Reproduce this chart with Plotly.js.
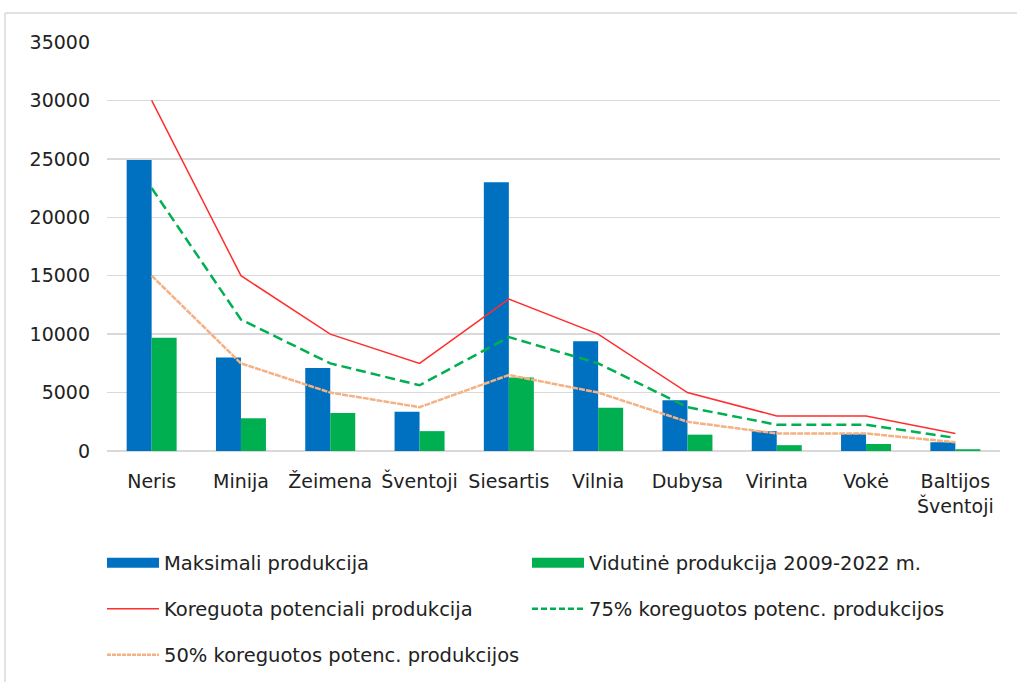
<!DOCTYPE html>
<html>
<head>
<meta charset="utf-8">
<script src="https://cdn.plot.ly/plotly-3.0.1.min.js"></script>
<style>html,body{margin:0;padding:0;background:#fff;}#chart{width:1017px;height:682px;}</style>
</head>
<body>
<div id="chart"></div>
<script>
const categories = ["Neris", "Minija", "Žeimena", "Šventoji", "Siesartis", "Vilnia", "Dubysa", "Virinta", "Vokė", "Baltijos<br>Šventoji"];
const maksimali = [24900, 8000, 7100, 3350, 23000, 9400, 4350, 1700, 1450, 750];
const vidutine = [9700, 2800, 3250, 1700, 6300, 3700, 1400, 500, 600, 150];
const koreguota = [30000, 15000, 10000, 7500, 13000, 10000, 5000, 3000, 3000, 1500];
const proc75 = [22500, 11250, 7500, 5625, 9750, 7500, 3750, 2250, 2250, 1125];
const proc50 = [15000, 7500, 5000, 3750, 6500, 5000, 2500, 1500, 1500, 750];

const names = ["Maksimali produkcija", "Vidutinė produkcija 2009-2022 m.", "Koreguota potenciali produkcija", "75% koreguotos potenc. produkcijos", "50% koreguotos potenc. produkcijos"];

const BLUE = "#0070C0", GREEN = "#00B050", RED = "#FF2E2E", ORANGE = "#F4B183";

const traces = [
  {type: "bar", x: categories, y: maksimali, name: names[0], marker: {color: BLUE}, showlegend: false},
  {type: "bar", x: categories, y: vidutine, name: names[1], marker: {color: GREEN}, showlegend: false},
  {type: "scatter", mode: "lines", x: categories, y: koreguota, name: names[2], line: {color: RED, width: 1.5}, showlegend: false},
  {type: "scatter", mode: "lines", x: categories, y: proc75, name: names[3], line: {color: GREEN, width: 2.5, dash: "10px,5px"}, showlegend: false},
  {type: "scatter", mode: "lines", x: categories, y: proc50, name: names[4], line: {color: ORANGE, width: 2.5, dash: "6px,1px"}, showlegend: false},
  // legend entries
  {type: "scatter", mode: "lines", x: [null], y: [null], name: names[0], line: {color: BLUE, width: 12}, legend: "legend"},
  {type: "scatter", mode: "lines", x: [null], y: [null], name: names[1], line: {color: GREEN, width: 12}, legend: "legend"},
  {type: "scatter", mode: "lines", x: [null], y: [null], name: names[2], line: {color: RED, width: 1.5}, legend: "legend2"},
  {type: "scatter", mode: "lines", x: [null], y: [null], name: names[3], line: {color: GREEN, width: 2.5, dash: "6px,3px"}, legend: "legend2"},
  {type: "scatter", mode: "lines", x: [null], y: [null], name: names[4], line: {color: ORANGE, width: 2.5, dash: "4px,1px"}, legend: "legend3"}
];

const PL = 107, PT = 42, PW = 893, PH = 409;
function px2x(X){return (X-PL)/PW;}
function px2y(Y){return (PT+PH-Y)/PH;}

const legendBase = {orientation: "h", xanchor: "left", yanchor: "middle", x: px2x(102), entrywidth: 358, entrywidthmode: "pixels", itemwidth: 52, font: {family: "DejaVu Sans", size: 19.5, color: "#222"}, bgcolor: "rgba(0,0,0,0)", traceorder: "normal"};

const layout = {
  width: 1017, height: 682,
  margin: {l: PL, r: 1017-PL-PW, t: PT, b: 682-PT-PH, pad: 0, autoexpand: false},
  paper_bgcolor: "#fff", plot_bgcolor: "#fff",
  font: {family: "DejaVu Sans", size: 19, color: "#222"},
  barmode: "group", bargap: 0.44, bargroupgap: 0,
  xaxis: {type: "category", showgrid: false, showline: false, ticks: "", ticklabelstandoff: 17, tickfont: {size: 19}, automargin: false},
  yaxis: {range: [0, 35000], dtick: 5000, tickformat: "d", gridcolor: "#d9d9d9", gridwidth: 1.5, zeroline: true, zerolinecolor: "#d9d9d9", zerolinewidth: 1.5, showline: false, ticks: "", ticklabelstandoff: 16, tickfont: {size: 19}, automargin: false},
  legend: Object.assign({}, legendBase, {y: px2y(563)}),
  legend2: Object.assign({}, legendBase, {y: px2y(609)}),
  legend3: Object.assign({}, legendBase, {y: px2y(655)}),
  shapes: [
    {type: "line", xref: "paper", yref: "paper", x0: px2x(5), x1: px2x(1017), y0: px2y(13), y1: px2y(13), line: {color: "#d9d9d9", width: 1.5}},
    {type: "line", xref: "paper", yref: "paper", x0: px2x(5), x1: px2x(5), y0: px2y(13), y1: px2y(682), line: {color: "#d9d9d9", width: 1.5}}
  ],
  showlegend: true
};

Plotly.newPlot("chart", traces, layout, {displayModeBar: false, staticPlot: true});
</script>
</body>
</html>
